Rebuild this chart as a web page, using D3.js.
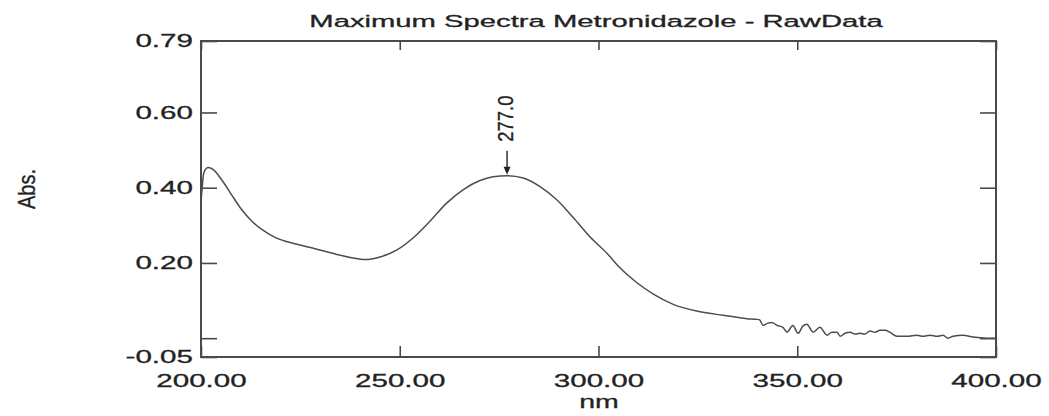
<!DOCTYPE html>
<html>
<head>
<meta charset="utf-8">
<script src="https://cdn.jsdelivr.net/npm/d3@7"></script>
<style>
  body { margin: 0; background: #fff; }
  text { font-family: "Liberation Sans", Arial, sans-serif; fill: #222; stroke: #222; stroke-width: 0.3px; }
</style>
</head>
<body>
<script>
// ---------------- data ----------------
const wavelengths = [
  200.0, 200.3, 200.6, 201.0, 201.8, 203.1, 205.2, 207.7, 210.2, 212.8,
  215.3, 218.6, 223.6, 228.7, 233.7, 237.9, 241.3, 245.0, 249.2, 253.4,
  257.6, 261.8, 266.0, 270.2, 273.5, 277.0, 281.1, 285.3, 289.5, 293.7,
  297.9, 302.1, 305.4, 309.6, 313.8, 318.8, 324.7, 331.4, 337.3, 340.0,
  340.6, 341.4, 342.6, 343.6, 344.9, 346.4, 347.4, 348.9, 350.2, 351.4,
  352.4, 354.0, 355.7, 357.5, 358.7, 360.0, 360.8, 362.0, 363.3, 364.5,
  365.8, 367.0, 368.3, 369.6, 370.8, 372.1, 373.3, 375.1, 377.6, 380.1,
  381.6, 383.4, 385.2, 386.7, 387.9, 389.2, 391.7, 394.2, 397.7, 400.0
];
const absorbance = [
  0.365, 0.400, 0.434, 0.447, 0.454, 0.448, 0.421, 0.381, 0.342, 0.311,
  0.289, 0.268, 0.251, 0.238, 0.224, 0.214, 0.209, 0.216, 0.234, 0.267,
  0.311, 0.359, 0.395, 0.419, 0.429, 0.432, 0.426, 0.403, 0.368, 0.320,
  0.269, 0.226, 0.187, 0.148, 0.117, 0.090, 0.072, 0.061, 0.052, 0.050,
  0.048, 0.034, 0.040, 0.042, 0.034, 0.029, 0.016, 0.034, 0.013, 0.032,
  0.037, 0.016, 0.029, 0.008, 0.016, 0.016, 0.005, 0.013, 0.016, 0.011,
  0.013, 0.011, 0.019, 0.016, 0.021, 0.021, 0.016, 0.005, 0.005, 0.008,
  0.005, 0.008, 0.005, 0.008, 0.000, 0.005, 0.008, 0.003, 0.000, 0.000
];
const xTicks = [200, 250, 300, 350, 400];
const yTicks = [0.79, 0.60, 0.40, 0.20, 0.00, -0.05];
const yLabels = ["0.79", "0.60", "0.40", "0.20", "", "-0.05"];
const peakNm = 277.0;
const peakLabel = "277.0";
const titleText = "Maximum Spectra Metronidazole - RawData";

// ---------------- layout ----------------
const width = 1049, height = 416;
const plotLeft = 201, plotRight = 996, plotTop = 41, plotBottom = 357;
const axisColor = "#4a4a4a";

const svg = d3.select("body").append("svg")
  .attr("width", width)
  .attr("height", height);

const x = d3.scaleLinear().domain([200, 400]).range([plotLeft, plotRight]);
const y = d3.scaleLinear().domain([-0.05, 0.79]).range([plotBottom, plotTop]);

// ---------------- axes (ticks pointing inward on all four sides) ----------------
function styleAxis(g) {
  g.select(".domain").remove();
  g.selectAll(".tick line").attr("stroke", axisColor).attr("stroke-width", 1.6);
}

svg.append("g")
  .attr("transform", "translate(" + plotLeft + ",0)")
  .call(d3.axisLeft(y).tickValues(yTicks).tickSize(-16).tickPadding(5)
    .tickFormat(function (d, i) { return yLabels[i]; }))
  .call(styleAxis)
  .call(function (g) {
    g.selectAll(".tick text")
      .style("font-size", "18.5px")
      .attr("fill", "#222")
      .attr("transform", "scale(1.6,1)");
  });

svg.append("g")
  .attr("transform", "translate(" + plotRight + ",0)")
  .call(d3.axisRight(y).tickValues(yTicks).tickSize(-16).tickFormat(""))
  .call(styleAxis);

svg.append("g")
  .attr("transform", "translate(0," + plotBottom + ")")
  .call(d3.axisBottom(x).tickValues(xTicks).tickSize(-11).tickPadding(17)
    .tickFormat(d3.format(".2f")))
  .call(styleAxis)
  .call(function (g) {
    g.selectAll(".tick text")
      .style("font-size", "18.5px")
      .attr("fill", "#222")
      .attr("transform", "scale(1.6,1)");
  });

svg.append("g")
  .attr("transform", "translate(0," + plotTop + ")")
  .call(d3.axisTop(x).tickValues(xTicks).tickSize(-9).tickFormat(""))
  .call(styleAxis);

// frame
svg.append("rect")
  .attr("x", plotLeft).attr("y", plotTop)
  .attr("width", plotRight - plotLeft).attr("height", plotBottom - plotTop)
  .attr("fill", "none")
  .attr("stroke", axisColor)
  .attr("stroke-width", 2);

// ---------------- spectrum ----------------
const points = wavelengths.map(function (w, i) { return [w, absorbance[i]]; });
const line = d3.line()
  .x(function (d) { return x(d[0]); })
  .y(function (d) { return y(d[1]); })
  .curve(d3.curveMonotoneX);

svg.append("path")
  .datum(points)
  .attr("d", line)
  .attr("fill", "none")
  .attr("stroke", "#4d4d4d")
  .attr("stroke-width", 1.5);

// ---------------- peak marker ----------------
const peakVal = absorbance[wavelengths.indexOf(peakNm)];
const px = x(peakNm), tipY = y(peakVal) - 1;
svg.append("line")
  .attr("x1", px).attr("x2", px)
  .attr("y1", tipY - 24).attr("y2", tipY - 6)
  .attr("stroke", "#222").attr("stroke-width", 1.4);
svg.append("path")
  .attr("d", "M" + (px - 3.5) + "," + (tipY - 8) + "L" + (px + 3.5) + "," + (tipY - 8) + "L" + px + "," + tipY + "Z")
  .attr("fill", "#222");
svg.append("g")
  .attr("transform", "translate(" + (px + 5.5) + "," + (tipY - 56) + ") scale(1.15,1) rotate(-90)")
  .append("text")
  .attr("text-anchor", "middle")
  .style("font-size", "18.5px")
  .text(peakLabel);

// ---------------- titles ----------------
svg.append("g")
  .attr("transform", "translate(596,27) scale(1.72,1)")
  .append("text")
  .attr("text-anchor", "middle")
  .style("font-size", "17px")
  .text(titleText);

svg.append("g")
  .attr("transform", "translate(599,408) scale(1.5,1)")
  .append("text")
  .attr("text-anchor", "middle")
  .style("font-size", "19px")
  .text("nm");

svg.append("g")
  .attr("transform", "translate(35,189) scale(1.2,1) rotate(-90)")
  .append("text")
  .attr("text-anchor", "middle")
  .style("font-size", "20px")
  .text("Abs.");
</script>
</body>
</html>
